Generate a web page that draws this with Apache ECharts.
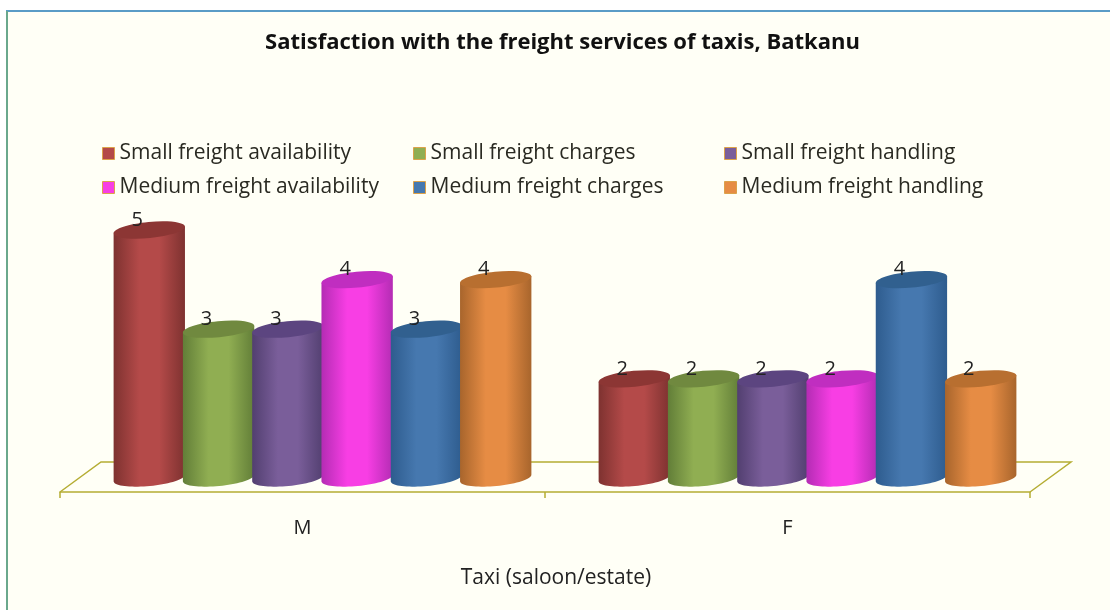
<!DOCTYPE html>
<html>
<head>
<meta charset="utf-8">
<style>html,body{margin:0;padding:0;background:#fff}#chart{width:1110px;height:610px}</style>
<script src="https://cdn.jsdelivr.net/npm/echarts@6/dist/echarts.min.js"></script>
</head>
<body>
<div id="chart"></div>
<script>
// Survey counts per gender group
const categories = ['M', 'F'];
const smallAvailability = [5, 2];
const smallCharges = [3, 2];
const smallHandling = [3, 2];
const mediumAvailability = [4, 2];
const mediumCharges = [3, 4];
const mediumHandling = [4, 2];

const seriesNames = [
  'Small freight availability', 'Small freight charges', 'Small freight handling',
  'Medium freight availability', 'Medium freight charges', 'Medium freight handling'
];
const seriesValues = [smallAvailability, smallCharges, smallHandling, mediumAvailability, mediumCharges, mediumHandling];
// [edge shade, lit centre, cap shade]
const palette = [
  ['#7e3230', '#b44a49', '#8c3634'],
  ['#627e38', '#90ae52', '#70893f'],
  ['#523f70', '#7a5e9a', '#5c4580'],
  ['#b42cb4', '#f83ee4', '#c02ec0'],
  ['#2e5c8e', '#4678af', '#31608f'],
  ['#a8652c', '#e68c44', '#b86f30']
];

const FONT = '"Open Sans", sans-serif';
const LINE = '#b5ad33';
const DEPTH_X = 20, DEPTH_Y = -14;   // shift of the bar row towards the back of the floor
const FLOOR_X = 41, FLOOR_Y = -30;   // full floor depth
const TILT = 5.5 * Math.PI / 180;

function ellipsePoint(cx, cy, rx, ry, t) {
  const ex = rx * Math.cos(t), ey = ry * Math.sin(t);
  return [cx + ex * Math.cos(TILT) + ey * Math.sin(TILT),
          cy - ex * Math.sin(TILT) + ey * Math.cos(TILT)];
}

function cylinder(params, api) {
  const cat = api.value(0), val = api.value(1);
  const band = api.size([1, 0])[0];
  const step = band / 7;
  const off = (params.seriesIndex - 1 - 2.5) * step;
  const base = api.coord([cat, 0]);
  const top = api.coord([cat, val]);
  const cx = base[0] + off + DEPTH_X;
  const by = base[1] + DEPTH_Y, ty = top[1] + DEPTH_Y;
  const rx = step / 2 + 1.2, ry = 8;
  const c = palette[params.seriesIndex - 1];
  const pts = [];
  pts.push(ellipsePoint(cx, ty, rx, ry, Math.PI));
  for (let k = 0; k <= 36; k++) {
    pts.push(ellipsePoint(cx, by, rx, ry, Math.PI - k / 36 * Math.PI));
  }
  pts.push(ellipsePoint(cx, ty, rx, ry, 0));
  const bodyFill = {
    type: 'linear', x: 0, y: 0, x2: 1, y2: 0,
    colorStops: [
      { offset: 0, color: c[0] }, { offset: 0.36, color: c[1] },
      { offset: 0.64, color: c[1] }, { offset: 1, color: c[0] }
    ]
  };
  return {
    type: 'group',
    children: [
      { type: 'polygon', shape: { points: pts }, style: { fill: bodyFill } },
      { type: 'ellipse', x: cx, y: ty, rotation: TILT,
        shape: { cx: 0, cy: 0, rx: rx, ry: ry }, style: { fill: c[2] } },
      { type: 'text', x: cx - 12, y: ty - 10,
        style: { text: String(val), fill: '#222', font: '20px ' + FONT, align: 'center', verticalAlign: 'middle' } }
    ]
  };
}

function floorPlane(params, api) {
  const cs = params.coordSys;
  const x0 = cs.x, x1 = cs.x + cs.width, y = cs.y + cs.height;
  return {
    type: 'polyline', silent: true,
    shape: { points: [[x0, y], [x0 + FLOOR_X, y + FLOOR_Y], [x1 + FLOOR_X, y + FLOOR_Y], [x1, y]] },
    style: { stroke: LINE, lineWidth: 1.5, fill: null }
  };
}

function legendColumn(names, left) {
  return {
    orient: 'vertical', left: left, top: 138, itemWidth: 12, itemHeight: 12, itemGap: 13,
    data: names, icon: 'rect', selectedMode: false,
    textStyle: { fontFamily: FONT, fontSize: 21, color: '#2a2a22' },
    itemStyle: { borderColor: '#dca24a', borderWidth: 1 }
  };
}

const chart = echarts.init(document.getElementById('chart'));
chart.setOption({
  animation: false,
  backgroundColor: '#ffffff',
  graphic: [
    { type: 'rect', z: -10, silent: true,
      shape: { x: 7, y: 12, width: 1103, height: 598 }, style: { fill: '#fffff6' } },
    { type: 'line', z: -9, silent: true,
      shape: { x1: 6, y1: 11, x2: 1110, y2: 11 }, style: { stroke: '#5a9cc6', lineWidth: 2 } },
    { type: 'line', z: -9, silent: true,
      shape: { x1: 7, y1: 11, x2: 7, y2: 610 }, style: { stroke: '#6aa88c', lineWidth: 2 } }
  ],
  title: {
    text: 'Satisfaction with the freight services of taxis, Batkanu',
    left: 557.5, top: 27, textAlign: 'center',
    textStyle: { fontFamily: FONT, fontSize: 22, fontWeight: 'bold', color: '#111' }
  },
  legend: [
    legendColumn([seriesNames[0], seriesNames[3]], 97),
    legendColumn([seriesNames[1], seriesNames[4]], 408),
    legendColumn([seriesNames[2], seriesNames[5]], 719)
  ],
  grid: { left: 60, width: 970, top: 219.2, height: 272.8 },
  xAxis: {
    type: 'category', data: categories,
    axisLine: { lineStyle: { color: LINE, width: 1.5 } },
    axisTick: { show: true, length: 6, alignWithLabel: false, lineStyle: { color: LINE, width: 1.5 } },
    axisLabel: { fontFamily: FONT, fontSize: 20, color: '#222', margin: 26 },
    name: 'Taxi (saloon/estate)', nameLocation: 'middle', nameGap: 76,
    nameTextStyle: { fontFamily: FONT, fontSize: 21, color: '#222', padding: [0, 0, 0, 22] }
  },
  yAxis: { type: 'value', min: 0, max: 5.5, show: false },
  series: [
    { type: 'custom', name: '__floor', silent: true, z: 1, legendHoverLink: false,
      renderItem: floorPlane, data: [0], clip: false }
  ].concat(seriesNames.map((name, i) => ({
    type: 'custom', name: name, z: 2, clip: false,
    renderItem: cylinder,
    itemStyle: { color: palette[i][1] },
    encode: { x: 0, y: 1 },
    data: categories.map((_, k) => [k, seriesValues[i][k]])
  })))
});
</script>
</body>
</html>
